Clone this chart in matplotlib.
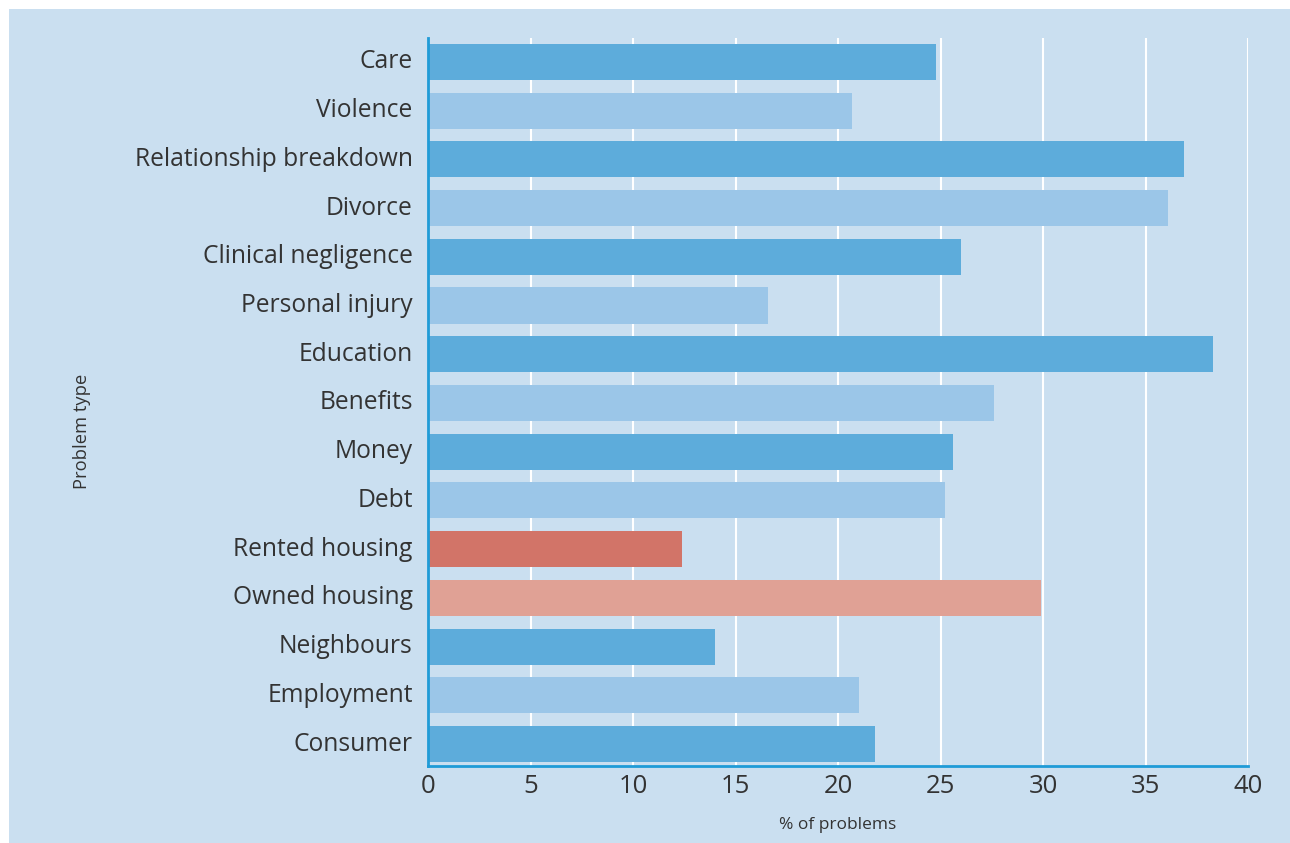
import matplotlib.pyplot as plt
from matplotlib.patches import Rectangle

categories = ['Care', 'Violence', 'Relationship breakdown', 'Divorce', 'Clinical negligence',
              'Personal injury', 'Education', 'Benefits', 'Money', 'Debt', 'Rented housing',
              'Owned housing', 'Neighbours', 'Employment', 'Consumer']
values = [24.8, 20.7, 36.9, 36.1, 26.0, 16.6, 38.3, 27.6, 25.6, 25.2, 12.4, 29.9, 14.0, 21.0, 21.8]
colors = ['#5dacdb', '#9bc6e8', '#5dacdb', '#9bc6e8', '#5dacdb', '#9bc6e8', '#5dacdb', '#9bc6e8',
          '#5dacdb', '#9bc6e8', '#d27468', '#e0a195', '#5dacdb', '#9bc6e8', '#5dacdb']

plt.rcParams['font.family'] = ['Open Sans', 'DejaVu Sans']
bg = '#cadff0'
txt = '#333333'

fig = plt.figure(figsize=(12.9, 8.43), dpi=100, facecolor='white')
# light blue panel, leaving a thin white margin on the top and left
fig.patches.append(Rectangle((9 / 1290, 0), 1 - 9 / 1290, 1 - 9 / 843, transform=fig.transFigure,
                             facecolor=bg, edgecolor='none', zorder=-5))
ax = fig.add_axes([428 / 1290, 1 - 766 / 843, 820 / 1290, 728 / 843])
ax.set_zorder(2)
ax.set_facecolor(bg)

ax.barh(range(len(categories)), values, color=colors, height=0.74, zorder=3)
ax.set_yticks(range(len(categories)))
ax.set_yticklabels(categories, fontsize=17.7, color=txt, va='center')
ax.set_ylim(len(categories) - 0.55, -0.49)
ax.set_xlim(0, 40)
ax.set_xticks(range(0, 41, 5))
ax.tick_params(axis='x', labelsize=18.5, colors=txt, length=0, pad=6)
ax.tick_params(axis='y', length=0, pad=11)
ax.grid(axis='x', color='white', linewidth=1.5, zorder=1)
ax.set_axisbelow(True)

for s in ['top', 'right']:
    ax.spines[s].set_visible(False)
for s in ['left', 'bottom']:
    ax.spines[s].set_color('#1f9bd7')
    ax.spines[s].set_linewidth(2)
    ax.spines[s].set_zorder(4)

ax.set_xlabel('% of problems', fontsize=12.5, color=txt, labelpad=13)
ax.set_ylabel('Problem type', fontsize=13.2, color=txt)
ax.yaxis.set_label_coords((91 - 428) / 820, (766 - 431) / 728)

fig.savefig('out.png', dpi=100, facecolor='white')
